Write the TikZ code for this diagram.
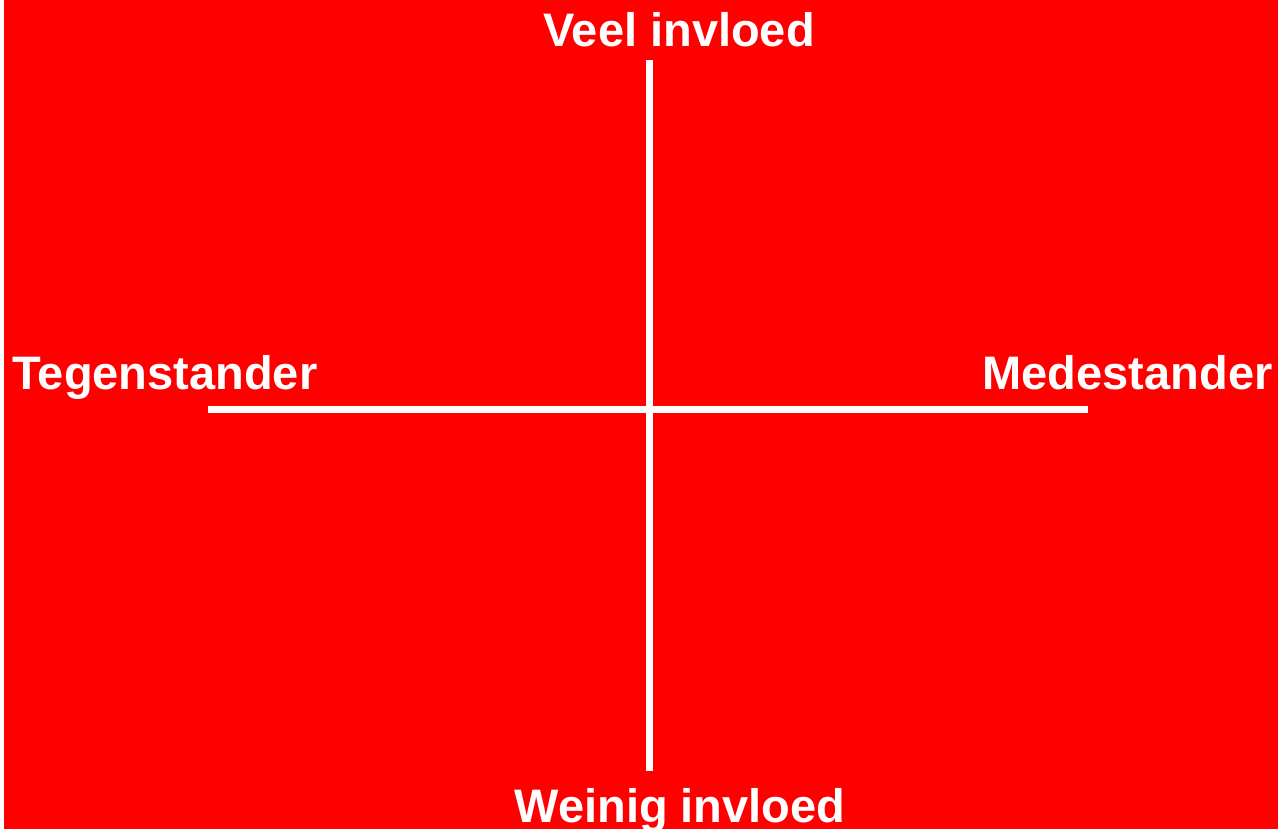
\documentclass[tikz,border=0pt]{standalone}
\usepackage{fontspec}
\setmainfont{Liberation Sans}
\definecolor{bgred}{RGB}{255,0,0}
\begin{document}
\begin{tikzpicture}[x=1pt,y=-1pt,
  axis/.style={draw=white,line width=7pt},
  lbl/.style={text=white,inner sep=0pt,anchor=base,font=\fontsize{47}{50}\selectfont\bfseries}]
\useasboundingbox (0,0) rectangle (1278,829);
\fill[white] (0,0) rectangle (1278,829);
\fill[bgred] (4,0) rectangle (1278,829);
\coordinate (top) at (649,60);
\coordinate (bot) at (649,771);
\coordinate (left) at (208,409);
\coordinate (right) at (1088,409);
\draw[axis] (top) -- (bot);
\draw[axis] (left) -- (right);
\node[lbl] (veel) at (679,47) {Veel invloed};
\node[lbl] (weinig) at (680,822) {Weinig invloed};
\node[lbl] (tegen) at (165,389) {Tegenstander};
\node[lbl] (mede) at (1127.5,389) {Medestander};
\end{tikzpicture}
\end{document}
